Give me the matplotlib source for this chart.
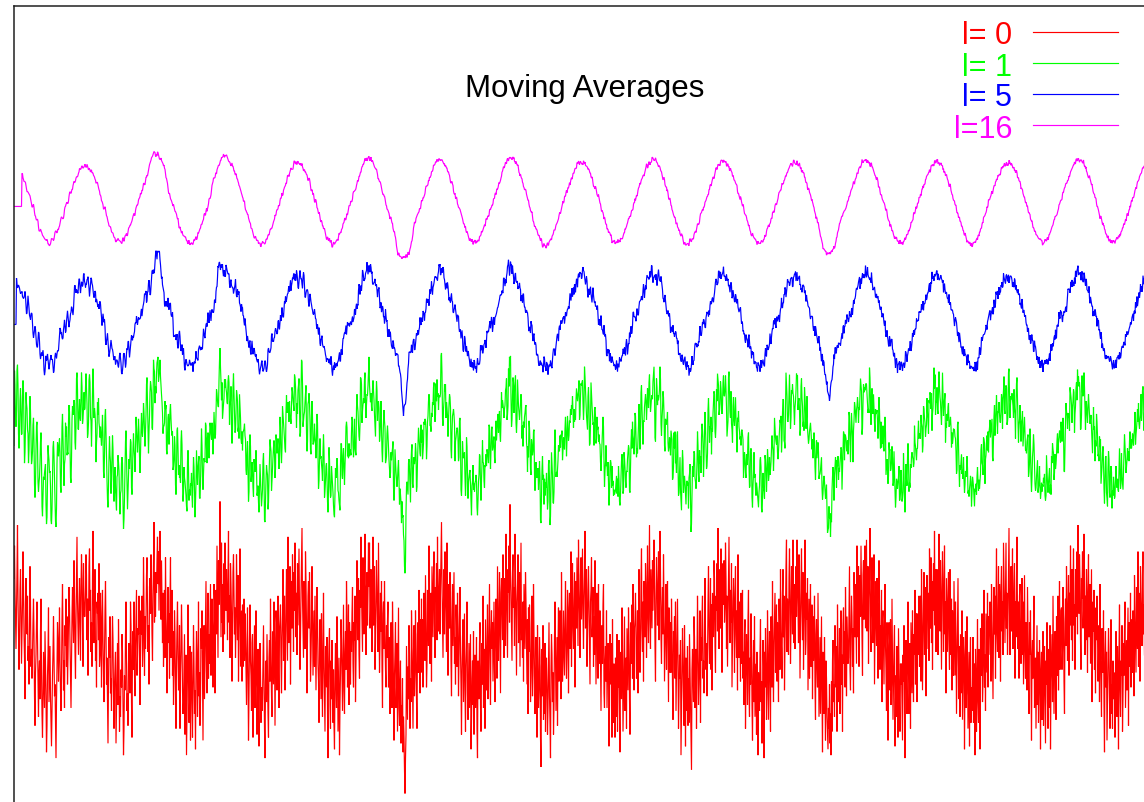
"""Moving averages of a noisy periodic signal (l = half window)."""

import numpy as np
import pandas as pd
import matplotlib
matplotlib.use('Agg')
import matplotlib.pyplot as plt
from matplotlib.lines import Line2D

plt.rcParams['font.family'] = ['Liberation Sans', 'DejaVu Sans']

raw_rows = [
    "73 84 69 59 49 61 75 91 66 54 42 51 69 76 63 44 54 64 82 70 54 46 32 65 73 66 54 67 45 50 37 58 77 65 43 49",
    "39 47 58 66 54 33 23 41 47 58 65 51 36 26 41 45 32 55 66 42 27 19 32 48 38 29 55 43 33 14 23 40 47 63 31",
    "41 50 33 25 16 29 40 48 60 46 33 37 24 12 31 43 58 52 38 49 63 45 35 28 39 59 71 52 35 45 29 57 50 66 43 60",
    "37 46 58 70 63 51 37 29 46 60 70 60 51 79 66 48 39 59 72 87 65 55 47 64 73 60 45 70 81 73 56 43 78 66 60",
    "60 68 81 74 52 66 40 56 77 83 62 69 48 58 43 73 89 66 51 61 76 45 52 36 65 61 68 52 78 43 47 68 54 36 60 69",
    "52 40 31 46 62 72 53 37 46 32 17 38 53 46 60 34 39 28 48 60 52 34 22 37 43 48 17 28 39 51 30 59 44 21 33",
    "26 42 36 54 48 30 13 22 40 35 54 65 46 28 34 23 44 51 41 34 65 57 31 19 50 55 42 65 40 33 50 60 69 40 47 56",
    "54 67 43 30 49 62 54 67 43 49 80 64 40 60 49 58 74 80 65 48 57 37 70 73 61 81 69 54 45 67 78 92 58 75 60",
    "75 68 79 87 71 82 62 76 89 72 59 79 64 51 68 43 58 69 46 80 61 50 34 57 70 51 61 39 66 80 46 51 69 40 55 30",
    "43 62 54 34 22 44 56 65 47 35 38 57 22 41 49 64 52 35 27 31 43 54 20 39 47 13 28 42 64 39 24 31 50 18 43",
    "48 31 19 37 57 44 27 35 15 42 55 48 26 36 65 33 41 23 32 56 49 62 39 18 48 57 32 45 56 72 42 34 56 68 39 54",
    "44 58 71 40 50 66 57 36 48 71 65 34 58 69 54 84 65 46 79 64 73 99 77 53 85 58 71 48 66 78 54 85 70 62 76",
    "66 52 74 89 58 67 46 78 71 61 38 53 75 81 67 54 63 46 56 81 69 52 74 38 56 63 83 43 52 62 38 64 43 56 66 45",
    "61 54 41 30 49 63 42 18 33 52 64 45 40 28 51 54 19 34 45 57 29 37 62 46 20 33 49 27 16 39 51 41 24 36 28",
    "32 45 57 40 22 12 38 45 31 54 39 27 19 46 52 38 66 45 33 26 55 46 37 65 53 23 41 62 58 35 49 67 41 29 56 59",
    "64 45 34 53 61 76 45 53 67 35 45 63 76 62 45 87 56 51 67 77 37 63 72 56 81 68 48 75 62 85 72 53 68 47 78",
    "57 71 83 64 42 53 68 79 90 66 57 46 72 63 49 82 72 57 34 53 67 72 56 75 62 38 46 57 77 61 40 50 62 43 67 49",
    "35 53 70 59 44 38 24 52 59 46 32 61 38 26 50 68 43 33 21 50 43 36 53 28 12 42 50 56 30 22 45 32 52 36 24",
    "42 23 15 39 51 37 29 60 48 21 35 46 13 30 41 59 52 40 28 48 64 35 27 48 55 42 72 60 36 43 64 30 58 51 37 55",
    "48 61 70 44 36 58 52 67 31 45 64 79 59 52 73 47 39 69 63 87 68 57 48 80 64 54 75 88 61 47 70 75 57 69 85",
    "70 85 56 62 76 65 48 72 87 57 62 77 42 51 66 79 70 57 48 85 62 41 51 68 55 72 43 29 61 65 49 72 54 42 36 57",
    "46 59 65 36 46 53 27 37 58 48 29 65 53 36 18 40 48 58 29 36 51 21 43 63 29 23 38 45 17 30 24 39 14 26 19",
    "08 00 12 20 50 38 25 43 32 57 47 22 39 31 62 52 37 22 48 57 33 41 62 49 32 22 54 58 41 69 49 34 59 46 66 41",
    "59 36 48 68 58 45 74 56 36 44 69 61 50 84 68 44 58 68 38 77 64 53 74 82 58 46 70 65 78 52 87 61 55 70 76",
    "54 69 80 92 72 59 46 65 76 54 82 69 61 48 85 55 40 64 71 56 75 68 45 33 59 71 50 62 75 44 53 37 64 57 43 68",
    "56 33 45 60 70 48 37 20 42 53 59 31 47 61 35 21 43 50 65 34 25 37 51 29 42 54 15 25 39 45 30 55 20 36 47",
    "29 38 53 22 12 45 37 32 51 58 30 21 43 51 37 67 29 36 49 22 59 47 35 47 64 32 43 57 71 41 30 55 62 49 58 38",
    "52 65 42 31 59 66 50 39 77 60 45 58 75 52 34 68 73 63 52 81 59 46 73 68 50 88 71 59 46 76 68 84 58 98 75",
    "68 56 45 75 81 63 70 50 88 75 58 40 65 71 81 51 58 75 43 65 85 52 59 46 65 38 71 59 49 75 65 51 37 59 27 63",
    "48 64 56 31 39 50 67 33 40 71 53 42 27 35 53 45 19 57 41 29 35 53 46 19 09 43 49 33 57 25 38 27 51 21 40",
    "46 36 20 29 44 58 33 24 12 42 54 47 31 41 20 30 53 65 48 28 42 53 23 49 63 38 44 62 54 32 75 52 38 45 62 51",
    "40 55 72 52 39 48 69 63 34 58 68 49 56 82 43 66 78 56 49 63 75 36 68 72 56 80 65 50 86 69 61 46 74 80 59",
    "72 83 61 49 66 75 89 56 61 76 43 54 69 77 63 50 37 65 69 80 53 58 70 43 60 47 79 63 37 52 68 59 39 71 44 46",
    "62 43 28 53 57 44 64 71 34 29 45 50 38 62 29 39 51 43 16 30 54 44 37 51 19 59 31 24 44 37 19 46 39 26 54",
    "21 41 36 52 27 14 48 39 32 63 46 21 34 49 60 28 39 46 22 56 45 35 63 52 32 20 50 58 44 64 39 71 50 35 56 59",
    "68 53 39 46 62 34 60 76 56 41 49 72 83 56 48 65 38 72 64 53 78 71 46 59 84 65 51 72 91 59 49 76 66 56 79",
    "62 74 86 70 50 38 66 80 72 57 62 82 52 66 89 75 53 44 63 70 54 81 64 38 48 58 71 42 62 72 50 31 63 54 41 58",
    "41 66 53 37 25 55 48 60 39 65 28 40 54 66 44 22 33 47 39 52 13 28 43 56 46 33 23 57 39 16 46 28 36 50 23",
    "39 24 54 43 34 20 08 42 49 38 31 60 53 29 35 49 22 44 67 53 30 37 46 62 24 53 45 60 67 39 45 34 57 73 54 42",
    "51 33 45 64 77 57 44 52 73 42 64 35 68 61 53 79 73 50 41 67 62 78 55 90 72 49 60 76 56 83 69 41 72 78 64",
    "79 58 63 85 73 49 67 43 58 74 87 64 51 69 58 78 36 52 65 73 61 41 68 77 54 46 62 35 81 58 46 65 53 38 68 44",
    "53 69 39 48 30 54 59 22 41 54 46 30 59 69 35 26 46 37 61 49 30 18 39 52 31 60 26 35 44 20 48 39 13 41 33",
    "28 48 59 31 38 17 27 52 43 12 48 36 56 44 25 34 62 50 25 39 55 44 21 60 52 36 72 42 31 51 59 68 41 49 64 38",
    "58 47 31 66 58 42 76 55 49 39 68 76 53 67 35 51 61 77 86 48 66 61 47 73 83 66 44 57 77 72 54 86 63 51 71",
    "49 69 77 60 86 72 63 51 81 66 39 55 72 83 63 52 75 42 57 66 86 47 52 68 59 73 35 51 66 39 59 71 43 50 64 32",
    "60 45 51 67 36 25 54 59 42 36 68 49 26 41 53 27 45 60 33 14 48 39 27 53 33 18 45 39 26 20 15 29 22 37 17",
    "27 13 38 21 45 52 31 37 26 57 45 36 50 21 64 44 31 40 56 27 49 62 37 47 21 57 63 44 55 36 70 54 33 60 51 44",
    "46 61 77 42 35 56 67 60 43 56 34 75 66 53 71 58 44 84 62 53 77 43 69 74 60 84 68 53 40 74 79 59 66 84 56",
    "71 86 55 62 77 44 66 73 90 56 48 67 80 61 51 70 81 37 55 72 60 50 73 63 39 55 79 65 42 57 48 69 31 59 62 49",
    "37 58 71 50 42 28 58 50 18 43 58 52 35 59 30 37 66 46 25 38 49 57 16 31 40 26 50 37 19 56 43 30 21 44 37",
    "44 31 18 47 38 57 28 12 42 52 37 27 45 65 42 27 34 51 22 58 47 34 62 43 31 54 47 69 37 43 61 31 55 61 47 67",
    "43 52 67 38 76 58 35 50 65 75 47 56 70 33 64 74 60 49 68 45 83 65 56 80 51 72 42 68 78 62 89 57 76 48 70",
    "76 63 47 72 88 65 55 79 60 42 69 82 73 48 59 84 54 65 34 73 61 48 66 75 52 42 76 56 47 66 35 62 55 40 72 54",
    "40 65 52 27 42 56 73 45 32 50 26 54 45 34 62 25 38 53 47 15 40 55 29 34 60 45 22 34 48 16 42 53 24 36 28",
    "37 53 24 31 44 13 49 41 21 38 59 31 24 49 42 15 56 50 40 61 31 38 51 69 36 47 28 61 51 41 68 36 60 47 56 65",
    "55 38 71 60 46 32 56 70 54 67 39 64 83 54 48 60 77 46 71 65 38 70 77 55 65 47 85 74 61 51 70 85 56 68 47",
    "59 75 90 63 47 68 77 55 65 83 49 58 71 78 39 65 53 73 87 59 49 65 39 67 71 53 44 57 73 47 65 37 57 74 48 39",
    "58 49 35 70 53 38 27 58 47 62 38 18 47 52 39 55 67 29 36 46 22 39 57 30 48 24 35 52 42 15 39 48 25 30 55",
    "23 39 50 32 17 45 37 58 31 22 49 41 29 57 15 38 47 54 31 67 48 27 40 55 46 25 60 55 40 67 35 51 72 42 49 62",
    "63 42 49 70 59 38 27 58 66 50 77 58 45 64 74 40 68 57 84 63 52 76 45 67 83 57 64 42 76 72 60 82 54 91 68",
    "61 81 72 52 42 73 66 82 56 62 88 74 47 67 52 76 64 41 68 81 53 57 71 44 61 76 31 46 65 55 69 42 58 34 63 52",
    "67 55 38 46 57 31 71 47 38 26 56 46 41 62 30 14 47 55 36 48 18 30 40 56 48 32 22 43 59 27 37 22 45 32 41",
    "36 19 43 55 31 26 50 40 15 48 64 35 26 45 40 57 21 33 51 40 56 65 29 41 52 35 49 63 23 58 53 43 68 36 52 59",
    "41 62 55 33 74 60 50 41 70 56 49 82 43 68 61 38 77 66 59 50 74 82 54 64 47 72 87 59 52 80 68 63 76 45 72",
    "84 58 68 77 49 60 72 87 54 64 77 43 69 60 79 72 48 36 65 69 58 74 50 79 52 40 58 66 46 58 80 47 38 59 52 38",
]

half_windows = [0, 1, 5, 16]
labels = ['l= 0', 'l= 1', 'l= 5', 'l=16']
colors = ['#ff0000', '#00ff00', '#0000ff', '#ff00ff']
offsets = [0.0, 6.8, 10.9, 14.9]

raw = np.array([int(v) for row in raw_rows for v in row.split()], dtype=float)
signal = pd.Series((raw - 50.0) / 10.0)
idx = np.arange(len(signal))

W, H = 1144, 803
fig = plt.figure(figsize=(W / 100, H / 100), dpi=100)

# plot frame: left edge at x=14 px, top at y=6.5 px; right/bottom lie off the picture
ax = fig.add_axes([14 / W, 0, (W - 14) / W, (H - 6.5) / H])
px_per_unit = 29.5
zero_px = 647.0
ax.set_xlim(0, 2 * (W - 14))
ax.set_ylim(-(H - zero_px) / px_per_unit, (zero_px - 6.5) / px_per_unit)

for l, col, off in zip(half_windows, colors, offsets):
    if l == 0:
        avg = signal
    else:
        # points closer than l to the ends have no full window -> left at zero
        avg = signal.rolling(2 * l + 1, center=True).mean().fillna(0.0)
    ax.plot(idx, avg + off, color=col, lw=0.85, solid_joinstyle='miter')

ax.set_xticks([])
ax.set_yticks([])
for side in ['right', 'bottom']:
    ax.spines[side].set_visible(False)
for side in ['left', 'top']:
    ax.spines[side].set_linewidth(1.1)
    ax.spines[side].set_color('#202020')

fig.text(585 / W, 1 - 96.7 / H, 'Moving Averages', ha='center', va='baseline',
         fontsize=22.5, color='black')

# key in the upper right
for k, (lab, col) in enumerate(zip(labels, colors)):
    y_base = 44.5 + 31.0 * k
    y_line = 33.3 + 31.0 * k
    fig.text(1012 / W, 1 - y_base / H, lab, ha='right', va='baseline',
             fontsize=22, color=col)
    fig.add_artist(Line2D([1033 / W, 1118 / W], [1 - y_line / H, 1 - y_line / H],
                          transform=fig.transFigure, color=col, lw=0.85))

fig.savefig('out.png', dpi=100)
